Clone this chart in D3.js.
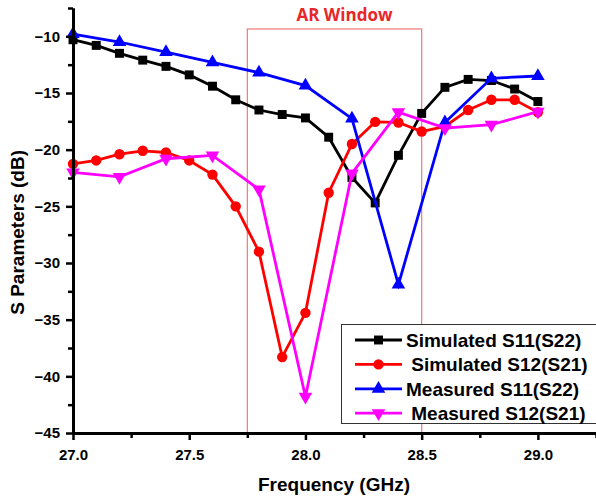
<!DOCTYPE html>
<html>
<head>
<meta charset="utf-8">
<script src="https://cdn.jsdelivr.net/npm/d3@7"></script>
<style>
  body { margin: 0; background: #fff; }
  svg { display: block; font-family: "Liberation Sans", Arial, sans-serif; }
</style>
</head>
<body>
<div id="chart"></div>
<script>
const freqSim = [27.0, 27.1, 27.2, 27.3, 27.4, 27.5, 27.6, 27.7, 27.8, 27.9, 28.0,
                 28.1, 28.2, 28.3, 28.4, 28.5, 28.6, 28.7, 28.8, 28.9, 29.0];
const simS11 = [-10.3, -10.8, -11.5, -12.1, -12.65, -13.4, -14.4, -15.6, -16.5, -16.9, -17.2,
                -18.9, -22.45, -24.7, -20.5, -16.8, -14.5, -13.8, -13.9, -14.65, -15.75];
const simS12 = [-21.25, -20.95, -20.4, -20.1, -20.25, -20.95, -22.2, -25.0, -29.0, -38.3, -34.4,
                -23.8, -19.5, -17.55, -17.6, -18.4, -17.95, -16.5, -15.6, -15.6, -16.7];
const freqMeas = [27.0, 27.2, 27.4, 27.6, 27.8, 28.0, 28.2, 28.4, 28.6, 28.8, 29.0];
const measS11 = [-9.8, -10.5, -11.4, -12.3, -13.2, -14.35, -17.25, -31.9, -17.6, -13.7, -13.5];
const measS12 = [-22.0, -22.4, -20.8, -20.5, -23.5, -41.8, -22.1, -16.7, -18.1, -17.8, -16.65];

const seriesNames = ["Simulated S11(S22)", " Simulated S12(S21)", "Measured S11(S22)", " Measured S12(S21)"];
const xTicks = [27.0, 27.5, 28.0, 28.5, 29.0];
const yTicks = [-45, -40, -35, -30, -25, -20, -15, -10];
const arWindow = [27.75, 28.5];
const arTop = -9.35;

const width = 596, height = 498;
const margin = {left: 73, right: 0, top: 8, bottom: 65};

const svg = d3.select("#chart").append("svg")
    .attr("width", width)
    .attr("height", height);

const x = d3.scaleLinear().domain([27, 29.25]).range([margin.left, width - margin.right]);
const y = d3.scaleLinear().domain([-45, -7.5]).range([height - margin.bottom, margin.top]);

const series = [
    {name: seriesNames[0], fx: freqSim, v: simS11, color: "#000000", sym: d3.symbolSquare, size: 80, rot: 0},
    {name: seriesNames[1], fx: freqSim, v: simS12, color: "#ff0000", sym: d3.symbolCircle, size: 85, rot: 0},
    {name: seriesNames[2], fx: freqMeas, v: measS11, color: "#0000ff", sym: d3.symbolTriangle, size: 80, rot: 0},
    {name: seriesNames[3], fx: freqMeas, v: measS12, color: "#ff00ff", sym: d3.symbolTriangle, size: 80, rot: 180}
];

// AR window box
svg.append("rect")
    .attr("x", x(arWindow[0]))
    .attr("y", y(arTop))
    .attr("width", x(arWindow[1]) - x(arWindow[0]))
    .attr("height", y(-45) - y(arTop))
    .attr("fill", "none")
    .attr("stroke", "#f07878")
    .attr("stroke-width", 1.2);

svg.append("text")
    .attr("x", (x(arWindow[0]) + x(arWindow[1])) / 2 + 10)
    .attr("y", 21)
    .attr("text-anchor", "middle")
    .attr("fill", "#e8262a")
    .attr("font-family", "'Open Sans', sans-serif")
    .attr("font-weight", "bold")
    .attr("font-size", 17)
    .text("AR Window");

const line = d3.line().x(d => x(d[0])).y(d => y(d[1]));

series.forEach(s => {
    const pts = s.fx.map((f, i) => [f, s.v[i]]);
    svg.append("path")
        .datum(pts)
        .attr("d", line)
        .attr("fill", "none")
        .attr("stroke", s.color)
        .attr("stroke-width", 2.8);
    svg.append("g").selectAll("path")
        .data(pts)
        .enter().append("path")
        .attr("d", d3.symbol().type(s.sym).size(s.size))
        .attr("transform", d => `translate(${x(d[0])},${y(d[1])}) rotate(${s.rot})`)
        .attr("fill", s.color);
});

// axes
const xAxis = svg.append("g")
    .attr("transform", `translate(0,${y(-45)})`)
    .call(d3.axisBottom(x).tickValues(xTicks).tickFormat(d3.format(".1f")).tickSize(7).tickSizeOuter(0));
xAxis.append("g").call(d3.axisBottom(x).tickValues(d3.range(27.25, 29.3, 0.5)).tickFormat("").tickSize(5).tickSizeOuter(0));

const yAxis = svg.append("g")
    .attr("transform", `translate(${margin.left},0)`)
    .call(d3.axisLeft(y).tickValues(yTicks).tickSize(7).tickSizeOuter(0));
yAxis.append("g").call(d3.axisLeft(y).tickValues(d3.range(-42.5, -7, 5)).tickFormat("").tickSize(5).tickSizeOuter(0));

svg.selectAll(".domain").attr("stroke", "#000").attr("stroke-width", 3);
svg.selectAll(".tick line").attr("stroke", "#000").attr("stroke-width", 2.5);
svg.selectAll(".tick text")
    .attr("font-family", "'Liberation Sans', Arial, sans-serif")
    .attr("font-weight", "bold")
    .attr("font-size", 15)
    .attr("fill", "#000");
xAxis.selectAll(".tick text").attr("dy", "1.15em");
yAxis.selectAll(".tick text").attr("dx", "-3px");

svg.append("text")
    .attr("x", 334)
    .attr("y", 491)
    .attr("text-anchor", "middle")
    .attr("font-weight", "bold")
    .attr("font-size", 19)
    .text("Frequency (GHz)");

svg.append("text")
    .attr("transform", `translate(24,${y(-27.3)}) rotate(-90)`)
    .attr("text-anchor", "middle")
    .attr("font-weight", "bold")
    .attr("font-size", 19)
    .text("S Parameters (dB)");

// legend
const legend = svg.append("g");
legend.append("rect")
    .attr("x", 341.5).attr("y", 324.5)
    .attr("width", 260).attr("height", 99)
    .attr("fill", "#fff")
    .attr("stroke", "#333")
    .attr("stroke-width", 1);

series.forEach((s, i) => {
    const ly = 340 + i * 24.4;
    legend.append("line")
        .attr("x1", 355).attr("x2", 402)
        .attr("y1", ly).attr("y2", ly)
        .attr("stroke", s.color).attr("stroke-width", 2.8);
    legend.append("path")
        .attr("d", d3.symbol().type(s.sym).size(s.size))
        .attr("transform", `translate(378.5,${ly}) rotate(${s.rot})`)
        .attr("fill", s.color);
    legend.append("text")
        .attr("x", 406)
        .attr("y", ly + 7)
        .attr("font-weight", "bold")
        .attr("font-size", 19)
        .attr("xml:space", "preserve")
        .style("white-space", "pre")
        .text(s.name);
});
</script>
</body>
</html>
